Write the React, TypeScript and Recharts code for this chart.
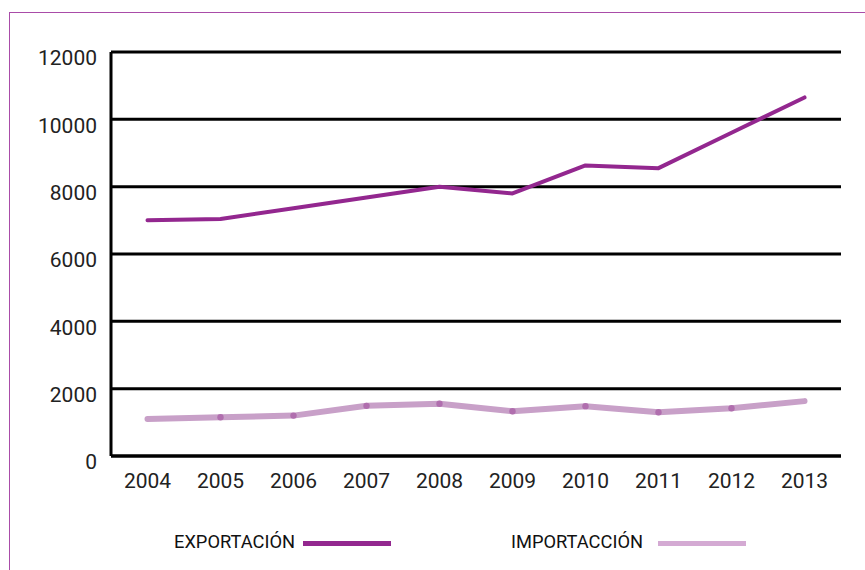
import React from "react";
import { LineChart, Line, XAxis, YAxis, CartesianGrid, Legend } from "recharts";

const years = ["2004", "2005", "2006", "2007", "2008", "2009", "2010", "2011", "2012", "2013"];
const exportacion = [7000, 7040, 7360, 7680, 8000, 7800, 8630, 8550, 9600, 10650];
const importacion = [1100, 1150, 1200, 1490, 1550, 1330, 1480, 1300, 1420, 1630];
const yTicks = [0, 2000, 4000, 6000, 8000, 10000, 12000];

const EXPORT_COLOR = "#93278F";
const IMPORT_COLOR = "#C8A0C8";
const IMPORT_DOT = "#B06EAE";

const LEGEND_COLORS: Record<string, string> = {
  exportacion: "#93288F",
  importacion: "#D4AAD3",
};
// legend text and swatch left edges
const LEGEND_TEXT_LEFT: Record<string, number> = {
  exportacion: 174,
  importacion: 511,
};
const LEGEND_LINE_LEFT: Record<string, number> = {
  exportacion: 303,
  importacion: 658,
};

const FONT = "Roboto, 'Noto Sans', sans-serif";

const data = years.map((year, i) => ({
  year,
  exportacion: exportacion[i],
  importacion: importacion[i],
}));

function YTick(props: any) {
  const { x, y, payload } = props;
  return (
    <text x={x} y={y + 6} dy="0.355em" textAnchor="end" fill="#222" fontSize={21} fontFamily={FONT}>
      {payload.value}
    </text>
  );
}

function ImportDot(props: any) {
  const { cx, cy, index } = props;
  if (index === 0 || index === years.length - 1) return <g key={`d-${index}`} />;
  return <circle key={`d-${index}`} cx={cx} cy={cy} r={3.2} fill={IMPORT_DOT} />;
}

function LegendContent(props: any) {
  const { payload } = props;
  return (
    <div style={{ position: "relative", width: 865, height: 30 }}>
      {(payload || []).map((entry: any) => (
        <React.Fragment key={entry.dataKey}>
          <span
            style={{
              position: "absolute",
              left: LEGEND_TEXT_LEFT[entry.dataKey],
              top: 3,
              fontFamily: FONT,
              fontSize: 18.3,
              lineHeight: "22px",
              color: "#111",
              whiteSpace: "nowrap",
            }}
          >
            {entry.value}
          </span>
          <span
            style={{
              position: "absolute",
              left: LEGEND_LINE_LEFT[entry.dataKey],
              top: 13,
              width: 88,
              height: 5,
              background: LEGEND_COLORS[entry.dataKey],
            }}
          />
        </React.Fragment>
      ))}
    </div>
  );
}

export default function App() {
  return (
    <div style={{ position: "absolute", left: 0, top: 0, width: 865, height: 570, overflow: "hidden", background: "#fff" }}>
      <div
        style={{
          position: "absolute",
          left: 9,
          top: 12,
          width: 900,
          height: 600,
          borderLeft: "1px solid #A94CA8",
          borderTop: "1px solid #A94CA8",
        }}
      />
      <LineChart width={865} height={570} data={data} margin={{ top: 52, right: 24, left: 11, bottom: 54 }}>
        <CartesianGrid vertical={false} stroke="#000" strokeWidth={3} />
        <XAxis
          dataKey="year"
          height={30}
          padding={{ left: 36.5, right: 36.5 }}
          axisLine={{ stroke: "#000", strokeWidth: 3 }}
          tickLine={false}
          tickSize={0}
          tickMargin={17}
          tick={{ fill: "#222", fontSize: 21, fontFamily: FONT }}
        />
        <YAxis
          width={100}
          domain={[0, 12000]}
          ticks={yTicks}
          axisLine={{ stroke: "#000", strokeWidth: 3 }}
          tickLine={false}
          tickSize={0}
          tickMargin={14}
          tick={<YTick />}
        />
        <Legend
          verticalAlign="bottom"
          content={<LegendContent />}
          wrapperStyle={{ position: "absolute", left: 0, top: 528, width: 865, height: 30 }}
        />
        <Line
          type="linear"
          dataKey="exportacion"
          name="EXPORTACIÓN"
          stroke={EXPORT_COLOR}
          strokeWidth={4}
          strokeLinecap="round"
          strokeLinejoin="round"
          dot={false}
          activeDot={false}
          isAnimationActive={false}
        />
        <Line
          type="linear"
          dataKey="importacion"
          name="IMPORTACCIÓN"
          stroke={IMPORT_COLOR}
          strokeWidth={6}
          strokeLinecap="round"
          strokeLinejoin="round"
          dot={<ImportDot />}
          activeDot={false}
          isAnimationActive={false}
        />
      </LineChart>
    </div>
  );
}
